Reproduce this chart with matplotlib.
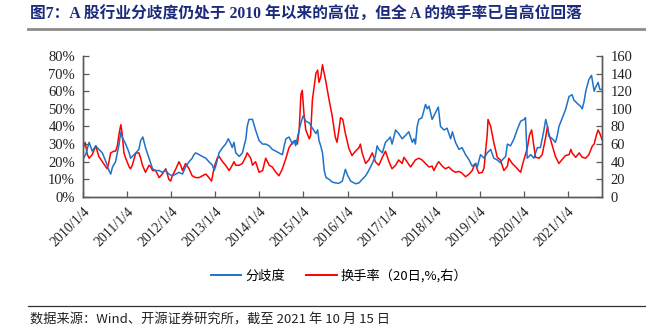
import numpy as np
import matplotlib
matplotlib.use("Agg")
import matplotlib.pyplot as plt
from matplotlib.lines import Line2D

# ── Data (decimal years) ────────────────────────────────────────────────────
div_year = [2010.01, 2010.06, 2010.14, 2010.21, 2010.29, 2010.36, 2010.44, 2010.52, 2010.59, 2010.63,
            2010.67, 2010.74, 2010.82, 2010.86, 2010.89, 2010.97, 2011.05, 2011.08, 2011.12, 2011.20,
            2011.27, 2011.31, 2011.36, 2011.42, 2011.50, 2011.58, 2011.65, 2011.73, 2011.80, 2011.88,
            2011.95, 2012.03, 2012.11, 2012.18, 2012.26, 2012.33, 2012.41, 2012.48, 2012.52, 2012.56,
            2012.64, 2012.71, 2012.79, 2012.86, 2012.94, 2012.98, 2013.02, 2013.09, 2013.17, 2013.24,
            2013.30, 2013.36, 2013.39, 2013.43, 2013.47, 2013.55, 2013.62, 2013.70, 2013.73, 2013.77,
            2013.85, 2013.92, 2014.00, 2014.08, 2014.15, 2014.23, 2014.30, 2014.38, 2014.45, 2014.53,
            2014.57, 2014.61, 2014.68, 2014.76, 2014.80, 2014.83, 2014.91, 2014.95, 2015.00, 2015.06,
            2015.14, 2015.21, 2015.29, 2015.33, 2015.36, 2015.40, 2015.44, 2015.48, 2015.52, 2015.59,
            2015.66, 2015.73, 2015.81, 2015.89, 2015.96, 2016.00, 2016.08, 2016.19, 2016.27, 2016.34,
            2016.42, 2016.49, 2016.57, 2016.64, 2016.68, 2016.72, 2016.80, 2016.87, 2016.95, 2016.98,
            2017.02, 2017.06, 2017.10, 2017.17, 2017.25, 2017.33, 2017.40, 2017.48, 2017.52, 2017.55,
            2017.59, 2017.63, 2017.70, 2017.78, 2017.82, 2017.86, 2017.93, 2018.01, 2018.07, 2018.12,
            2018.20, 2018.27, 2018.35, 2018.39, 2018.46, 2018.54, 2018.61, 2018.69, 2018.77, 2018.84,
            2018.92, 2018.95, 2019.03, 2019.11, 2019.18, 2019.26, 2019.33, 2019.41, 2019.48, 2019.52,
            2019.60, 2019.64, 2019.71, 2019.79, 2019.86, 2019.94, 2020.02, 2020.05, 2020.09, 2020.17,
            2020.24, 2020.32, 2020.39, 2020.47, 2020.51, 2020.55, 2020.58, 2020.66, 2020.73, 2020.77,
            2020.81, 2020.89, 2020.96, 2021.04, 2021.11, 2021.15, 2021.23, 2021.30, 2021.34, 2021.38,
            2021.42, 2021.49, 2021.55, 2021.61, 2021.64, 2021.70, 2021.74, 2021.79]
div_pct = [22, 24, 31, 26, 29, 27, 25, 20, 15, 13,
           17, 20, 30, 37, 34, 30, 25, 22, 23, 25,
           27, 32, 34, 28, 22, 16, 15, 15, 14, 15,
           13, 12, 13, 14, 13, 17, 20, 22, 24, 25,
           24, 23, 22, 20, 18, 15, 18, 25, 28, 30,
           33, 30, 28, 31, 25, 23, 25, 33, 40, 44,
           44, 38, 32, 30, 30, 29, 27, 26, 25, 24,
           29, 33, 34, 30, 32, 29, 38, 42, 46, 43,
           42, 39, 36, 38, 32, 29, 25, 15, 11, 10,
           8.5, 8, 7.7, 9, 15.7, 12.8, 9, 7.5, 8, 10,
           12, 15, 19, 23, 29, 27, 25, 31, 33, 34,
           30, 34, 38, 36, 33, 35, 37, 31, 33, 30,
           40, 44, 45, 52.5, 50, 51.5, 44, 48, 51, 40,
           38, 39, 33, 37, 31, 27, 28, 24, 21, 17.5,
           19, 16.6, 24, 22, 25, 27, 22, 21, 19.4, 21,
           23, 30, 29, 33, 38, 43, 44, 45, 22, 24,
           22, 28, 28, 38, 44, 40, 34.5, 33, 31, 34.5,
           40, 45, 49.6, 57, 58, 55, 53, 51.5, 50, 54,
           60, 66.6, 69, 60, 62, 65, 61, 61]

turn_year = [2010.01, 2010.05, 2010.10, 2010.14, 2010.21, 2010.29, 2010.36, 2010.44, 2010.52, 2010.55,
             2010.59, 2010.63, 2010.70, 2010.74, 2010.78, 2010.82, 2010.86, 2010.89, 2010.93, 2010.97,
             2011.05, 2011.08, 2011.12, 2011.20, 2011.27, 2011.31, 2011.35, 2011.42, 2011.50, 2011.54,
             2011.58, 2011.65, 2011.73, 2011.80, 2011.88, 2011.95, 2011.99, 2012.03, 2012.11, 2012.18,
             2012.22, 2012.26, 2012.33, 2012.41, 2012.48, 2012.56, 2012.64, 2012.71, 2012.79, 2012.86,
             2012.92, 2012.98, 2013.05, 2013.09, 2013.17, 2013.24, 2013.32, 2013.39, 2013.43, 2013.47,
             2013.55, 2013.62, 2013.70, 2013.73, 2013.81, 2013.85, 2013.92, 2014.00, 2014.08, 2014.15,
             2014.23, 2014.30, 2014.38, 2014.45, 2014.53, 2014.61, 2014.68, 2014.76, 2014.83, 2014.87,
             2014.91, 2014.95, 2014.98, 2015.02, 2015.06, 2015.14, 2015.17, 2015.21, 2015.29, 2015.33,
             2015.36, 2015.40, 2015.44, 2015.52, 2015.59, 2015.66, 2015.73, 2015.77, 2015.81, 2015.85,
             2015.90, 2015.96, 2016.04, 2016.11, 2016.19, 2016.27, 2016.30, 2016.34, 2016.42, 2016.49,
             2016.57, 2016.61, 2016.64, 2016.72, 2016.80, 2016.87, 2016.95, 2017.02, 2017.10, 2017.17,
             2017.25, 2017.29, 2017.36, 2017.44, 2017.55, 2017.63, 2017.70, 2017.78, 2017.86, 2017.93,
             2017.97, 2018.05, 2018.08, 2018.16, 2018.23, 2018.31, 2018.39, 2018.46, 2018.54, 2018.61,
             2018.69, 2018.77, 2018.84, 2018.88, 2018.92, 2018.95, 2018.99, 2019.07, 2019.11, 2019.14,
             2019.18, 2019.20, 2019.26, 2019.33, 2019.41, 2019.48, 2019.56, 2019.64, 2019.67, 2019.75,
             2019.83, 2019.90, 2019.94, 2019.99, 2020.05, 2020.09, 2020.14, 2020.19, 2020.24, 2020.28,
             2020.36, 2020.43, 2020.51, 2020.55, 2020.58, 2020.66, 2020.73, 2020.81, 2020.89, 2020.96,
             2021.04, 2021.08, 2021.11, 2021.19, 2021.27, 2021.34, 2021.42, 2021.49, 2021.57, 2021.61,
             2021.66, 2021.70, 2021.74, 2021.79]
turn_val = [56, 62, 48, 44, 48, 58, 46, 40, 34, 32,
            40, 50, 52, 52, 58, 72, 82, 72, 50, 44,
            34, 32, 36, 50, 50, 44, 36, 28, 36, 34,
            30, 30, 22, 26, 32, 20, 18, 24, 32, 40,
            36, 30, 38, 32, 24, 22, 22, 24, 26, 22,
            18, 34, 44, 46, 40, 36, 30, 36, 40, 36,
            36, 38, 46, 50, 44, 36, 40, 28, 30, 44,
            36, 34, 28, 24, 32, 44, 56, 62, 64, 60,
            76, 116, 121, 94, 76, 66, 70, 110, 140, 144,
            130, 136, 150, 130, 110, 92, 68, 62, 75, 90,
            88, 72, 55, 47, 52, 56, 60, 50, 38, 42,
            50, 45, 40, 36, 45, 52, 40, 32, 36, 42,
            38, 45, 40, 34, 42, 44, 42, 38, 34, 35,
            30, 38, 40, 35, 32, 34, 30, 28, 29, 27,
            23, 26, 30, 35, 38, 32, 27, 28, 33, 50,
            70, 88, 80, 62, 45, 42, 30, 35, 44, 38,
            34, 30, 28, 38, 48, 55, 70, 76, 58, 45,
            44, 48, 68, 80, 72, 58, 46, 38, 43, 47,
            48, 54, 50, 45, 50, 45, 44, 48, 58, 60,
            70, 76, 72, 65]

tick_years = list(range(2010, 2022))
tick_labels = [f"{y}/1/4" for y in tick_years]
left_ticks = [0, 10, 20, 30, 40, 50, 60, 70, 80]
right_ticks = [0, 20, 40, 60, 80, 100, 120, 140, 160]

TITLE = "图7：A 股行业分歧度仍处于 2010 年以来的高位，但全 A 的换手率已自高位回落"
SOURCE = "数据来源：Wind、开源证券研究所，截至 2021 年 10 月 15 日"
BLUE, RED = "#1f73c6", "#ff0000"
AXC = "#595959"
SERIF = ["Liberation Serif", "Noto Sans CJK SC"]

# ── Plot ─────────────────────────────────────────────────────────────────────
fig = plt.figure(figsize=(6.46, 3.35), dpi=100)
ax = fig.add_axes([0.129, 0.412, 0.803, 0.421])
ax2 = ax.twinx()

ax.plot(div_year, div_pct, color=BLUE, lw=1.1)
ax2.plot(turn_year, turn_val, color=RED, lw=1.1)
ax.set_zorder(ax2.get_zorder() + 1)
ax.patch.set_visible(False)

ax.set_xlim(2010.008, 2021.79)
ax.set_ylim(0, 80)
ax2.set_ylim(0, 160)
ax.set_yticks(left_ticks)
ax.set_yticklabels([f"{v}%" for v in left_ticks], family=SERIF, fontsize=10.5)
ax2.set_yticks(right_ticks)
ax2.set_yticklabels([str(v) for v in right_ticks], family=SERIF, fontsize=10.5)
ax.set_xticks([y + 0.008 for y in tick_years])
ax.set_xticklabels(tick_labels, rotation=45, ha="right", rotation_mode="anchor",
                   family=SERIF, fontsize=10)

for a in (ax, ax2):
    a.spines["top"].set_visible(False)
    for s in ("left", "right", "bottom"):
        a.spines[s].set_color(AXC)
        a.spines[s].set_linewidth(1.0)
    a.tick_params(direction="in", length=4, width=0.9, color=AXC, pad=6, labelcolor="#222222")
ax.tick_params(axis="x", pad=6)

# legend
handles = [Line2D([], [], color=BLUE, lw=1.4), Line2D([], [], color=RED, lw=1.4)]
fig.legend(handles, ["分歧度", "换手率（20日,%,右）"], loc="center",
           bbox_to_anchor=(0.525, 0.176), ncol=2, frameon=False,
           prop={"family": ["Noto Sans CJK SC"], "size": 9.5},
           handlelength=2.3, handletextpad=0.3, columnspacing=1.6)

# title, rules, source
fig.text(0.046, 0.955, TITLE, family=SERIF, fontweight="bold", fontsize=11.3,
         color="#1c2a7c", va="center", ha="left")
fig.add_artist(Line2D([0.043, 1.0], [0.913, 0.913], color="#8c8c8c", lw=2.0))
fig.add_artist(Line2D([0.043, 1.0], [0.087, 0.087], color="#333333", lw=0.9))
fig.text(0.046, 0.045, SOURCE, family=["Noto Sans CJK SC"], fontsize=9.5,
         color="#222222", va="center", ha="left")

fig.savefig("out.png", dpi=100)
